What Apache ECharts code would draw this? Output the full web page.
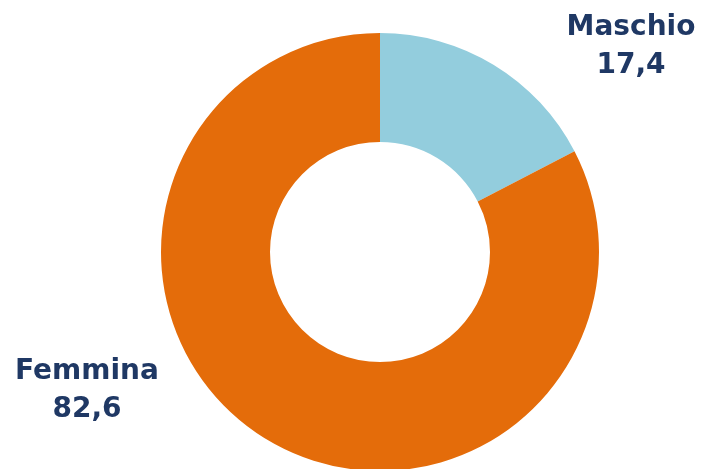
<!DOCTYPE html>
<html>
<head>
<meta charset="utf-8">
<script src="https://cdn.jsdelivr.net/npm/echarts@6/dist/echarts.min.js"></script>
<style>
  html, body { margin: 0; padding: 0; background: #fff; }
  #main { width: 704px; height: 469px; }
</style>
</head>
<body>
<div id="main"></div>
<script>
var categories = ['Maschio', 'Femmina'];
var values = [17.4, 82.6];
var colors = ['#93CDDD', '#E46C0A'];

// where the two labels sit (label centre)
var labelPos = [[631, 47], [87, 391]];

var myChart = echarts.init(document.getElementById('main'));
var option = {
    animation: false,
    series: [
        {
            type: 'pie',
            center: [380, 252],
            radius: [110, 219],
            startAngle: 90,
            clockwise: true,
            avoidLabelOverlap: false,
            itemStyle: {
                borderWidth: 0
            },
            label: {
                show: true,
                formatter: function (p) {
                    return p.name + '\n' + p.value.toFixed(1).replace('.', ',');
                },
                color: '#1F3864',
                fontFamily: 'DejaVu Sans',
                fontWeight: 'bold',
                fontSize: 28,
                lineHeight: 38,
                align: 'center'
            },
            labelLine: { show: false },
            labelLayout: function (params) {
                var p = labelPos[params.dataIndex];
                return { x: p[0], y: p[1], align: 'center', verticalAlign: 'middle' };
            },
            data: categories.map(function (c, i) {
                return { name: c, value: values[i], itemStyle: { color: colors[i] } };
            })
        }
    ]
};
myChart.setOption(option);
</script>
</body>
</html>
